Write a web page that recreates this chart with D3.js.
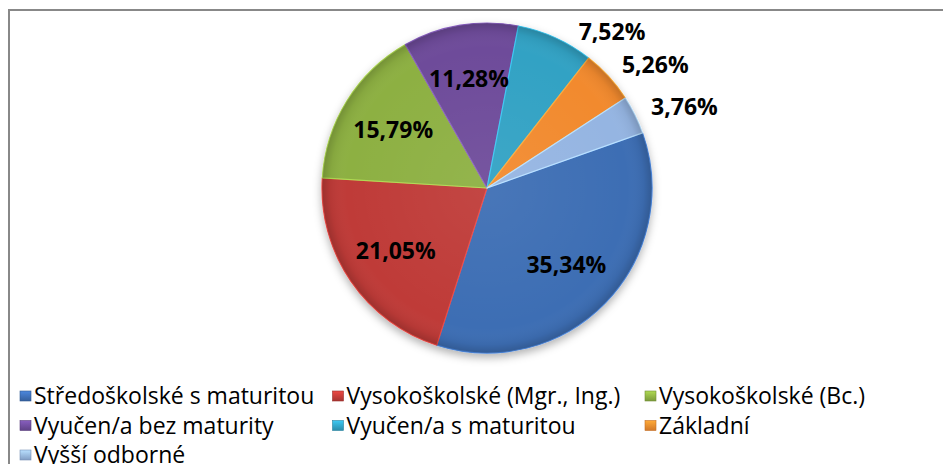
<!DOCTYPE html>
<html>
<head>
<meta charset="utf-8">
<script src="https://cdn.jsdelivr.net/npm/d3@7"></script>
<style>
  html, body { margin: 0; padding: 0; background: #fff; }
  svg { display: block; }
</style>
</head>
<body>
<svg id="chart" width="943" height="464"></svg>
<script>
// data
const categories = [
    "Středoškolské s maturitou",
    "Vysokoškolské (Mgr., Ing.)",
    "Vysokoškolské (Bc.)",
    "Vyučen/a bez maturity",
    "Vyučen/a s maturitou",
    "Základní",
    "Vyšší odborné"
];
const shares = [35.34, 21.05, 15.79, 11.28, 7.52, 5.26, 3.76];
const colors = ["#3d6eb4", "#bf3b37", "#8db043", "#6e4c9a", "#31a2c4", "#f28a2e", "#95b5e2"];

const width = 943, height = 464;
const frameTop = 10;
const cx = 487, cy = 188, radius = 165;
const startDeg = 70.5; // first slice starts here, clockwise from 12 o'clock

const svg = d3.select("#chart");
const defs = svg.append("defs");

// soft shadow under the pie
const shadow = defs.append("filter").attr("id", "shadow")
    .attr("x", "-20%").attr("y", "-20%").attr("width", "140%").attr("height", "140%");
shadow.append("feDropShadow")
    .attr("dx", 0).attr("dy", 4).attr("stdDeviation", 4)
    .attr("flood-color", "#000").attr("flood-opacity", 0.3);

// shading over each slice: plain middle, darker rim
const rim = defs.append("radialGradient").attr("id", "rim")
    .attr("gradientUnits", "userSpaceOnUse")
    .attr("cx", 0).attr("cy", 0).attr("r", radius);
rim.append("stop").attr("offset", "0%").attr("stop-color", "#fff").attr("stop-opacity", 0.06);
rim.append("stop").attr("offset", "85%").attr("stop-color", "#fff").attr("stop-opacity", 0);
rim.append("stop").attr("offset", "95%").attr("stop-color", "#000").attr("stop-opacity", 0.05);
rim.append("stop").attr("offset", "100%").attr("stop-color", "#000").attr("stop-opacity", 0.18);

// legend swatch gradients
colors.forEach((c, i) => {
    const g = defs.append("linearGradient").attr("id", "sw" + i)
        .attr("x1", 0).attr("y1", 0).attr("x2", 0).attr("y2", 1);
    g.append("stop").attr("offset", "0%").attr("stop-color", d3.color(c).brighter(0.6));
    g.append("stop").attr("offset", "100%").attr("stop-color", d3.color(c).darker(0.4));
});

// chart frame (only top and left edges are visible in the crop)
svg.append("path")
    .attr("d", `M9,${height} L9,${frameTop} L${width},${frameTop}`)
    .attr("fill", "none")
    .attr("stroke", "#888")
    .attr("stroke-width", 2);

const data = categories.map((name, i) => ({ name, value: shares[i], color: colors[i] }));

const start = startDeg * Math.PI / 180;
const pie = d3.pie().sort(null).value(d => d.value)
    .startAngle(start).endAngle(start + 2 * Math.PI);
const arcs = pie(data);

const arc = d3.arc().innerRadius(0).outerRadius(radius);

const pieG = svg.append("g").attr("transform", `translate(${cx},${cy})`);

const slices = pieG.append("g").attr("filter", "url(#shadow)");
slices.selectAll("path.slice")
    .data(arcs)
    .join("path")
    .attr("class", "slice")
    .attr("d", arc)
    .attr("fill", d => d.data.color)
    .attr("stroke", d => d3.color(d.data.color).brighter(0.6))
    .attr("stroke-width", 1.2)
    .attr("stroke-linejoin", "round");

// shading overlay
pieG.append("g")
    .selectAll("path")
    .data(arcs)
    .join("path")
    .attr("d", arc)
    .attr("fill", "url(#rim)")
    .attr("pointer-events", "none");

// labels: big slices inside, small ones outside on the right
const fmt = v => v.toFixed(2).replace(".", ",") + "%";
const inner = d3.arc().innerRadius(radius * 0.67).outerRadius(radius * 0.67);
const outer = d3.arc().innerRadius(radius + 18).outerRadius(radius + 18);
const minY = frameTop + 22 - cy; // keep outside labels below the frame

pieG.selectAll("text.lbl")
    .data(arcs)
    .join("text")
    .attr("class", "lbl")
    .each(function (d) {
        const small = d.data.value < 10;
        let [x, y] = small ? outer.centroid(d) : inner.centroid(d);
        if (small && y < minY) {
            x += (minY - y) * 1.5;
            y = minY;
        }
        d3.select(this)
            .attr("x", x)
            .attr("y", y)
            .attr("text-anchor", small ? "start" : "middle");
    })
    .attr("dy", "0.36em")
    .attr("font-family", "'Open Sans', 'Noto Sans', sans-serif")
    .attr("font-weight", 700)
    .attr("font-size", 23)
    .attr("fill", "#000")
    .text(d => fmt(d.data.value));

// legend: three columns
const legendX = d3.scalePoint().domain([0, 1, 2]).range([20, 645]);
const legendY = d3.scaleLinear().domain([0, 1]).range([396, 425.5]);

const legend = svg.append("g")
    .selectAll("g")
    .data(data)
    .join("g")
    .attr("transform", (d, i) => `translate(${legendX(i % 3)},${legendY(Math.floor(i / 3))})`);

legend.append("rect")
    .attr("x", 0).attr("y", -5)
    .attr("width", 11).attr("height", 10)
    .attr("fill", (d, i) => `url(#sw${i})`)
    .attr("stroke", d => d3.color(d.color).darker(0.6))
    .attr("stroke-width", 0.6);

legend.append("text")
    .attr("x", 14)
    .attr("dy", "0.35em")
    .attr("font-family", "'Open Sans', 'Noto Sans', sans-serif")
    .attr("font-size", 23)
    .attr("fill", "#000")
    .text(d => d.name);
</script>
</body>
</html>
